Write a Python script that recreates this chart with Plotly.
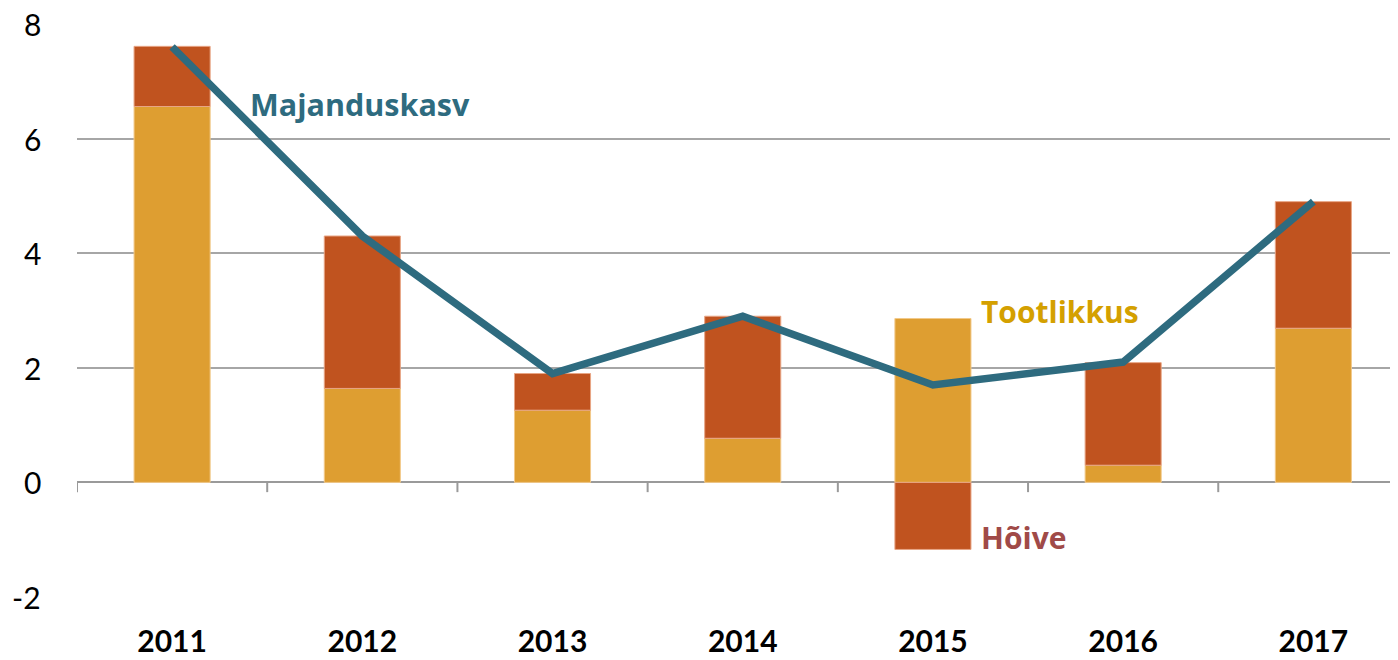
import plotly.graph_objects as go

years = ["2011", "2012", "2013", "2014", "2015", "2016", "2017"]
tootlikkus = [6.56, 1.64, 1.26, 0.77, 2.86, 0.30, 2.69]
hoive = [1.05, 2.66, 0.64, 2.13, -1.17, 1.79, 2.21]
majanduskasv = [7.6, 4.3, 1.9, 2.9, 1.7, 2.1, 4.9]
y_ticks = [-2, 0, 2, 4, 6, 8]
y_tick_labels = ["-2", "0", "2", "4", "6", "8"]

C_TOOT = "#DE9E31"
C_HOIVE = "#C0531F"
C_LINE = "#2E6B7F"

fig = go.Figure()
fig.add_trace(go.Bar(x=years, y=tootlikkus, name="Tootlikkus",
                     marker=dict(color=C_TOOT, line=dict(color="#F2C98A", width=1))))
fig.add_trace(go.Bar(x=years, y=hoive, name="Hõive",
                     marker=dict(color=C_HOIVE, line=dict(color="#E8A585", width=1))))
fig.add_trace(go.Scatter(x=years, y=majanduskasv, name="Majanduskasv", mode="lines",
                         line=dict(color=C_LINE, width=7.5)))

# category boundary tick marks on the zero line
for i in range(len(years)):
    fig.add_shape(type="line", xref="x", yref="y", x0=i - 0.5, x1=i - 0.5, y0=0, y1=-0.17,
                  line=dict(color="#9A9A9A", width=2))

# y-axis tick labels (as annotations so the top one is not dropped at the page edge)
for v, t in zip(y_ticks, y_tick_labels):
    fig.add_annotation(x=0, y=v, xref="paper", yref="y", text=t, showarrow=False,
                       xanchor="right", yanchor="middle", xshift=-34,
                       font=dict(family="Lato", size=30, color="black"))

label_font = "Open Sans"
fig.add_annotation(x=0.40, y=6.61, xref="x", yref="y", text="<b>Majanduskasv</b>", showarrow=False,
                   xanchor="left", yanchor="middle", font=dict(family=label_font, size=30.5, color=C_LINE))
fig.add_annotation(x=4.24, y=2.98, xref="x", yref="y", text="<b>Tootlikkus</b>", showarrow=False,
                   xanchor="left", yanchor="middle", font=dict(family=label_font, size=30, color="#D4A000"))
fig.add_annotation(x=4.24, y=-0.96, xref="x", yref="y", text="<b>Hõive</b>", showarrow=False,
                   xanchor="left", yanchor="middle", font=dict(family=label_font, size=30, color="#A04A48"))

fig.update_layout(
    width=1390, height=652,
    margin=dict(l=69, r=0, t=16, b=63),
    paper_bgcolor="white", plot_bgcolor="white",
    barmode="relative", bargap=0.6,
    showlegend=False,
    xaxis=dict(type="category", range=[-0.5, 6.445], showgrid=False, showline=False, zeroline=False,
               ticks="", tickfont=dict(family="Lato", size=30, color="black", weight="bold"),
               ticklabelstandoff=24, automargin=False),
    yaxis=dict(range=[-2, 8], tickvals=y_ticks, showgrid=True, showticklabels=False,
               gridcolor="#A6A6A6", gridwidth=1.5,
               zeroline=True, zerolinecolor="#9A9A9A", zerolinewidth=2, showline=False, ticks="",
               automargin=False),
)

fig.write_html("out.html")
